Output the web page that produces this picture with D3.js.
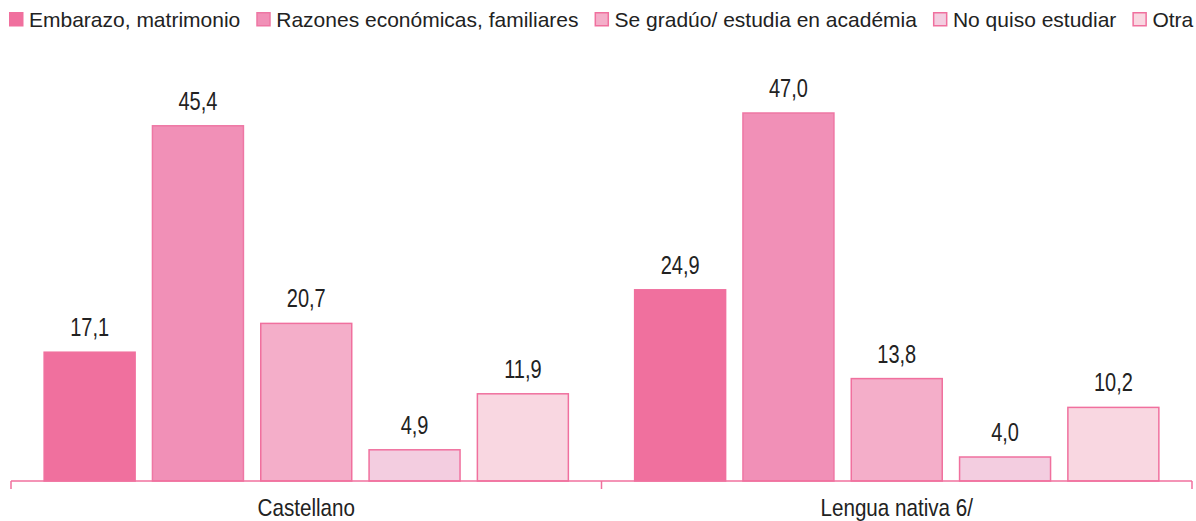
<!DOCTYPE html>
<html>
<head>
<meta charset="utf-8">
<script src="https://cdn.jsdelivr.net/npm/d3@7"></script>
<style>
	body { margin: 0; background: #fff; }
	svg { display: block; }
	text { font-family: "Liberation Sans", Arial, sans-serif; fill: #222; }
</style>
</head>
<body>
<svg id="chart" width="1196" height="521"></svg>
<script>
/*********************************************************\
* Reasons for leaving school, by mother tongue            *
\*********************************************************/

var categories = ['Castellano', 'Lengua nativa 6/'];
var series = ['Embarazo, matrimonio', 'Razones económicas, familiares',
	'Se gradúo/ estudia en académia', 'No quiso estudiar', 'Otra'];
var castellano = [17.1, 45.4, 20.7, 4.9, 11.9];
var lenguaNativa = [24.9, 47.0, 13.8, 4.0, 10.2];
var fills = ['#f0709e', '#f190b7', '#f4aec9', '#f3cde0', '#f9d7e1'];
var strokes = ['#f0709e', '#ee77a4', '#f0709e', '#f0709e', '#f0709e'];

//- - - - - - - - - - - - - - - - - - - - - - - - - - - - - - - - - - - - - - -

var svg = d3.select('#chart'),
	rows = [castellano, lenguaNativa],
	narrow = 0.8,	// no condensed font installed, squeeze glyphs instead
	fmt = function (v) { return d3.format('.1f')(v).replace('.', ','); };

var x0 = d3.scaleBand()
	.domain(categories)
	.range([11, 1192]);

var x1 = d3.scaleBand()
	.domain(series)
	.range([0, x0.bandwidth()])
	.paddingInner(0.16)
	.paddingOuter(0.306);

// the value axis of the original starts near 1, not at 0
var y = d3.scaleLinear()
	.domain([1, 50])
	.range([481, 89]);

var data = [];
categories.forEach(function (c, i) {
	series.forEach(function (s, j) {
		data.push({ cat: c, ser: s, idx: j, value: rows[i][j] });
	});
});

// bars
svg.append('g').attr('class', 'bars')
	.selectAll('rect')
	.data(data)
	.enter()
	.append('rect')
	.attr('x', function (d) { return x0(d.cat) + x1(d.ser); })
	.attr('y', function (d) { return y(d.value); })
	.attr('width', x1.bandwidth())
	.attr('height', function (d) { return y(1) - y(d.value); })
	.attr('fill', function (d) { return fills[d.idx]; })
	.attr('stroke', function (d) { return strokes[d.idx]; })
	.attr('stroke-width', 1.5)
;

// value labels
svg.append('g').attr('class', 'labels')
	.selectAll('text')
	.data(data)
	.enter()
	.append('text')
	.attr('transform', function (d) {
		var cx = x0(d.cat) + x1(d.ser) + x1.bandwidth() / 2;
		return 'translate(' + cx + ',' + (y(d.value) - 16) + ') scale(' + narrow + ',1)';
	})
	.attr('text-anchor', 'middle')
	.style('font-size', '25px')
	.text(function (d) { return fmt(d.value); })
;

// category axis
var axis = svg.append('g').attr('class', 'axis')
	.attr('transform', 'translate(0,' + y(1) + ')')
	.call(d3.axisBottom(x0).tickSize(0).tickPadding(0));

axis.select('.domain').remove();
axis.selectAll('.tick text')
	.attr('y', null).attr('dy', null)
	.attr('transform', 'translate(0,35) scale(0.86,1)')
	.style('font-size', '24px')
	.attr('font-family', null)
	.attr('fill', '#222');

axis.append('line')
	.attr('x1', x0.range()[0]).attr('x2', x0.range()[1])
	.attr('stroke', '#f0709e').attr('stroke-width', 1.5);

var edges = categories.map(function (c) { return x0(c); }).concat([x0.range()[1]]);
axis.selectAll('line.tick-mark')
	.data(edges)
	.enter()
	.append('line')
	.attr('class', 'tick-mark')
	.attr('x1', function (d) { return d; }).attr('x2', function (d) { return d; })
	.attr('y1', 0).attr('y2', 8)
	.attr('stroke', '#f0709e').attr('stroke-width', 1.5);

// legend
var legend = svg.append('g').attr('class', 'legend'),
	lx = 9;

series.forEach(function (s, j) {
	legend.append('rect')
		.attr('x', lx + 0.75).attr('y', 12.75)
		.attr('width', 13).attr('height', 13)
		.attr('fill', fills[j])
		.attr('stroke', strokes[j]).attr('stroke-width', 1.5);
	var t = legend.append('text')
		.attr('x', lx + 20).attr('y', 27)
		.style('font-size', '21px')
		.text(s);
	lx += 20 + t.node().getComputedTextLength() + 16;
});
</script>
</body>
</html>
